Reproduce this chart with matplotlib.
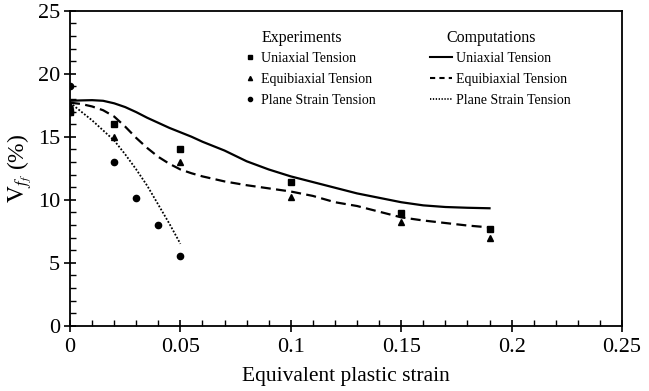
import matplotlib
matplotlib.use("Agg")
import matplotlib.pyplot as plt
from matplotlib.lines import Line2D
from matplotlib.ticker import MultipleLocator

plt.rcParams['font.family'] = ['Liberation Serif', 'DejaVu Serif']
plt.rcParams['mathtext.fontset'] = 'stix'

# Experiments
exp_uni_x = [0, 0.02, 0.05, 0.10, 0.15, 0.19]
exp_uni_y = [17.0, 16.0, 14.0, 11.4, 8.95, 7.7]
exp_equi_x = [0, 0.02, 0.05, 0.10, 0.15, 0.19]
exp_equi_y = [17.5, 15.0, 13.0, 10.2, 8.2, 7.0]
exp_ps_x = [0, 0, 0.02, 0.03, 0.04, 0.05]
exp_ps_y = [19.0, 17.0, 13.0, 10.1, 8.0, 5.5]

# Computations
comp_uni_x = [0, 0.005, 0.01, 0.015, 0.02, 0.025, 0.03, 0.035, 0.04, 0.045, 0.05, 0.055,
              0.06, 0.07, 0.08, 0.09, 0.10, 0.11, 0.12, 0.13, 0.14, 0.15, 0.16, 0.17, 0.18, 0.19]
comp_uni_y = [17.85, 17.88, 17.9, 17.85, 17.65, 17.35, 16.95, 16.5, 16.1, 15.7, 15.35, 15.0,
              14.6, 13.9, 13.05, 12.4, 11.85, 11.4, 10.95, 10.5, 10.15, 9.8, 9.55, 9.42, 9.36, 9.32]
comp_equi_x = [0, 0.005, 0.01, 0.015, 0.02, 0.025, 0.03, 0.035, 0.04, 0.045, 0.05, 0.055,
               0.06, 0.07, 0.08, 0.09, 0.10, 0.11, 0.12, 0.13, 0.14, 0.15, 0.16, 0.17, 0.18, 0.19]
comp_equi_y = [17.7, 17.6, 17.4, 17.1, 16.6, 15.8, 14.9, 14.1, 13.4, 12.85, 12.4, 12.1,
               11.85, 11.45, 11.15, 10.9, 10.65, 10.3, 9.8, 9.5, 9.05, 8.6, 8.35, 8.15, 7.95, 7.8]
comp_ps_x = [0, 0.005, 0.01, 0.015, 0.02, 0.025, 0.03, 0.035, 0.04, 0.045, 0.05]
comp_ps_y = [17.7, 17.0, 16.3, 15.5, 14.7, 13.6, 12.4, 11.1, 9.6, 8.1, 6.5]

xticks = [0, 0.05, 0.1, 0.15, 0.2, 0.25]
xticklabels = ['0', '0.05', '0.1', '0.15', '0.2', '0.25']
yticks = [0, 5, 10, 15, 20, 25]
legend_titles = ['Experiments', 'Computations']
labels = ['Uniaxial Tension', 'Equibiaxial Tension', 'Plane Strain Tension']

fig = plt.figure(figsize=(6.49, 3.91), dpi=100)
ax = fig.add_axes([70/649, 1 - 325.7/391, 552/649, 315/391])

ax.plot(comp_uni_x, comp_uni_y, color='black', lw=1.6, ls='-')
ax.plot(comp_equi_x, comp_equi_y, color='black', lw=1.6, ls=(0, (4.5, 2.4)))
ax.plot(comp_ps_x, comp_ps_y, color='black', lw=1.3, ls=(0, (1, 1)))

ax.plot(exp_uni_x, exp_uni_y, ls='none', marker='s', ms=4.5, color='black')
ax.plot(exp_equi_x, exp_equi_y, ls='none', marker='^', ms=4.5, color='black')
ax.plot(exp_ps_x, exp_ps_y, ls='none', marker='o', ms=4.5, color='black')

ax.set_xlim(0, 0.25)
ax.set_ylim(0, 25)
ax.set_xticks(xticks)
ax.set_xticklabels(xticklabels)
ax.set_yticks(yticks)
ax.xaxis.set_minor_locator(MultipleLocator(0.01))
ax.yaxis.set_minor_locator(MultipleLocator(1))
ax.tick_params(which='major', direction='inout', length=8, width=1.2, labelsize=16)
ax.tick_params(axis='x', which='major', pad=5)
ax.tick_params(axis='y', which='major', pad=3)
ax.tick_params(which='minor', direction='in', length=4, width=1.0)
ax.tick_params(top=False, right=False, which='both')
for s in ax.spines.values():
    s.set_linewidth(1.3)

ax.set_xlabel('Equivalent plastic strain', fontsize=15.5, labelpad=7)
ax.set_ylabel(r'$\mathrm{V}_{f_f}$ (%)', fontsize=17, labelpad=3)

h1 = [Line2D([], [], ls='none', marker='s', ms=3, color='black'),
      Line2D([], [], ls='none', marker='^', ms=3, color='black'),
      Line2D([], [], ls='none', marker='o', ms=3, color='black')]
h2 = [Line2D([], [], ls='-', lw=1.5, color='black'),
      Line2D([], [], ls=(0, (2.5, 2)), lw=1.5, color='black'),
      Line2D([], [], ls=(0, (0.7, 0.9)), lw=1.3, color='black')]

leg1 = ax.legend(h1, labels, loc='upper left',
                 bbox_to_anchor=(0.318, 0.869), frameon=False, fontsize=10,
                 handlelength=0.6, handletextpad=0.5,
                 labelspacing=0.57, borderpad=0, borderaxespad=0)
ax.add_artist(leg1)
leg2 = ax.legend(h2, labels, loc='upper left',
                 bbox_to_anchor=(0.652, 0.869), frameon=False, fontsize=10,
                 handlelength=1.6, handletextpad=0.3,
                 labelspacing=0.57, borderpad=0, borderaxespad=0)

ax.text(0.420, 0.9016, legend_titles[0], transform=ax.transAxes, ha='center',
        va='baseline', fontsize=11.5)
ax.text(0.763, 0.9016, legend_titles[1], transform=ax.transAxes, ha='center',
        va='baseline', fontsize=11.5)

fig.savefig('out.png', dpi=100)
